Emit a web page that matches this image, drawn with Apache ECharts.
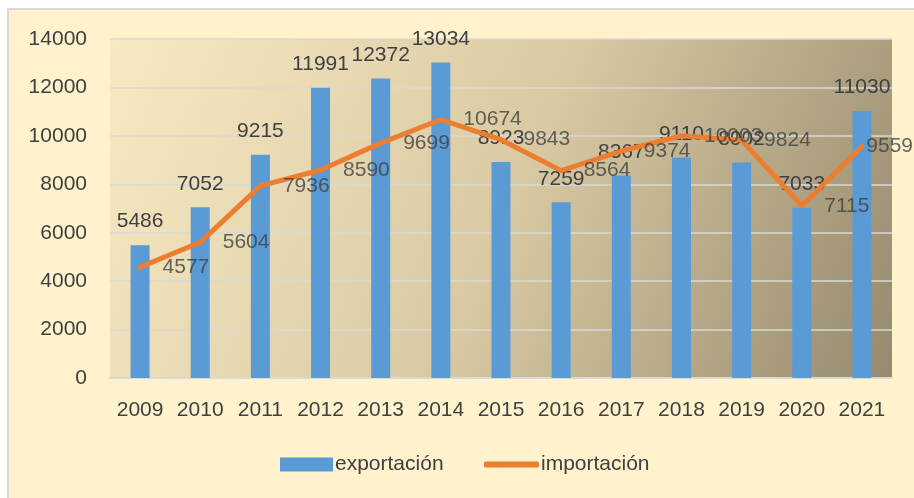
<!DOCTYPE html>
<html>
<head>
<meta charset="utf-8">
<script src="https://cdn.jsdelivr.net/npm/echarts@6/dist/echarts.min.js"></script>
<style>
html,body{margin:0;padding:0;background:#ffffff;}
#chart{width:914px;height:498px;}
</style>
</head>
<body>
<div id="chart"></div>
<script>
const years = ['2009','2010','2011','2012','2013','2014','2015','2016','2017','2018','2019','2020','2021'];
const exportacion = [5486, 7052, 9215, 11991, 12372, 13034, 8923, 7259, 8367, 9110, 8902, 7033, 11030];
const importacion = [4577, 5604, 7936, 8590, 9699, 10674, 9843, 8564, 9374, 10003, 9824, 7115, 9559];
const yTicks = [0, 2000, 4000, 6000, 8000, 10000, 12000, 14000];

const FONT = "'Liberation Sans', Arial, sans-serif";
const TXT = '#404040';
const legendText = { fontSize: 21, color: TXT, fontFamily: FONT, padding: [0, 0, 0, -3] };

const chart = echarts.init(document.getElementById('chart'));
chart.setOption({
  backgroundColor: '#ffffff',
  animation: false,
  graphic: [{
    type: 'rect', z: -10, silent: true,
    shape: { x: 8, y: 9, width: 920, height: 500 },
    style: { fill: '#FFF2CC', stroke: '#D9D9D9', lineWidth: 2 }
  }],
  textStyle: { fontFamily: FONT },
  grid: {
    left: 110, right: 22, top: 39, bottom: 120,
    show: true, borderWidth: 0,
    backgroundColor: new echarts.graphic.LinearGradient(0, 0, 1, 1, [
      { offset: 0, color: '#F7E9C1' },
      { offset: 0.5, color: '#D9CAA3' },
      { offset: 1, color: '#968A6E' }
    ])
  },
  legend: [
    {
      left: 280, top: 454, padding: 0,
      itemWidth: 53, itemHeight: 14,
      textStyle: legendText,
      data: [{ name: 'exportación', icon: 'rect' }]
    },
    {
      left: 484, top: 454, padding: 0,
      itemWidth: 55, itemHeight: 6,
      textStyle: legendText,
      data: [{ name: 'importación', icon: 'roundRect', itemStyle: { color: '#ED7D31' } }]
    }
  ],
  xAxis: {
    type: 'category',
    data: years,
    axisLine: { show: true, lineStyle: { color: '#D9D9D9', width: 2 } },
    axisTick: { show: false },
    axisLabel: { fontSize: 21, color: TXT, margin: 22, fontFamily: FONT, interval: 0 }
  },
  yAxis: {
    type: 'value',
    min: yTicks[0], max: yTicks[yTicks.length - 1], interval: yTicks[1] - yTicks[0],
    axisLine: { show: false },
    axisTick: { show: false },
    axisLabel: { fontSize: 21, color: TXT, margin: 23, fontFamily: FONT, formatter: v => String(v) },
    splitLine: { lineStyle: { color: '#D9D9D9', width: 1.5 } }
  },
  series: [
    {
      name: 'exportación',
      type: 'bar',
      data: exportacion,
      barWidth: 19,
      itemStyle: { color: '#5B9BD5' },
      label: {
        show: true, position: 'top', distance: 13,
        fontSize: 21, color: TXT, fontFamily: FONT
      },
      z: 2
    },
    {
      name: 'importación',
      type: 'line',
      data: importacion,
      symbol: 'none',
      lineStyle: { color: '#ED7D31', width: 5, cap: 'round', join: 'round' },
      itemStyle: { color: '#ED7D31' },
      z: 3
    },
    {
      name: 'importación-labels',
      type: 'scatter',
      data: importacion,
      symbolSize: 1,
      itemStyle: { color: 'rgba(0,0,0,0)' },
      label: {
        show: true, position: 'right', distance: 22,
        fontSize: 21, color: TXT, fontFamily: FONT
      },
      labelLayout: function (p) {
        const r = p.labelRect;
        const over = r.x + r.width - 913;
        return over > 0 ? { dx: -over, hideOverlap: false } : { hideOverlap: false };
      },
      silent: true,
      z: 4
    }
  ]
});
</script>
</body>
</html>
